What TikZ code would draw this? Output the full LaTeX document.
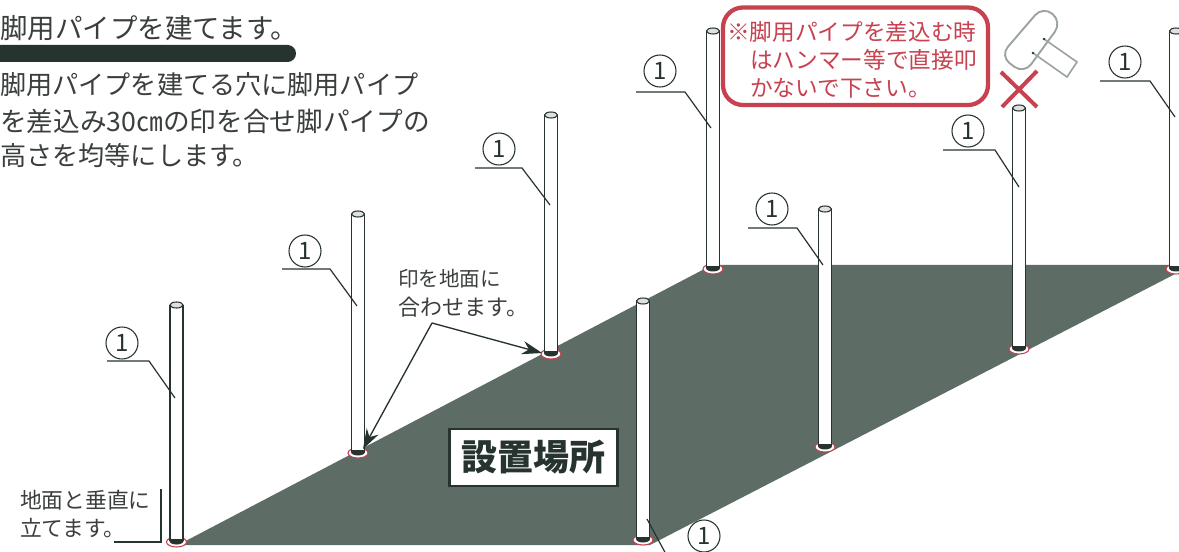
\documentclass[tikz,border=0pt]{standalone}
\usepackage{fontspec}
\setmainfont{Noto Sans CJK JP}
\usetikzlibrary{arrows.meta}
\definecolor{ink}{HTML}{26332E}
\definecolor{txt}{HTML}{3A3F3D}
\definecolor{grnd}{HTML}{5E6C66}
\definecolor{redc}{HTML}{C8414F}
\definecolor{ham}{HTML}{9AA39E}
\tikzset{
 x=0.75pt,y=-0.75pt,
 pipeline/.style={draw=ink,line width=1.3pt,fill=white},
 leader/.style={draw=ink,line width=0.9pt},
 numcirc/.style={circle,draw=ink,line width=0.8pt,minimum size=24pt,inner sep=0pt,font=\fontsize{18}{18}\selectfont,text=ink},
 jp/.style={anchor=west,inner sep=0pt,text=txt},
 callarrow/.style={draw=ink,line width=1pt,-{Stealth[length=15pt,width=10pt]}},
}
\newcommand{\pipeshape}[4]{% name, x, top, bottom
 \fill[white,draw=redc,line width=0.8pt] (#2,#4+1) ellipse [x radius=10,y radius=5];
 \fill[ink] (#2,#4) ellipse [x radius=7,y radius=3.5];
 \path[pipeline,draw=none] (#2-6.5,#3) rectangle (#2+6.5,#4-2);
 \draw[ink,line width=1.3pt] (#2-6.5,#3) -- (#2-6.5,#4);
 \draw[ink,line width=1.3pt] (#2+6.5,#3) -- (#2+6.5,#4);
 \draw[ink,line width=0.8pt,fill=black!12] (#2,#3) ellipse [x radius=6.5,y radius=3];
 \coordinate (#1) at (#2,#4);
}
\begin{document}
\begin{tikzpicture}
\useasboundingbox (0,0) rectangle (1179,552);
\fill[white] (0,0) rectangle (1179,552);
\clip (0,0) rectangle (1179,552);
% ground
\fill[grnd] (178,545) -- (712,265) -- (1179,265) -- (1179,272) -- (650,545) -- cycle;
% pipes
\pipeshape{pa}{176.5}{305}{541}
\pipeshape{pb}{358}{214}{452}
\pipeshape{pc}{551}{115}{353}
\pipeshape{pd}{713}{31}{268}
\pipeshape{pe}{825}{209}{446}
\pipeshape{pf}{1019}{108}{348}
\pipeshape{pg}{1176}{31}{268}
\pipeshape{ph}{643}{301}{539}
% tags
\foreach \n/\cx/\cy/\sx/\kx/\ly/\tx/\ty in {
 a/122/343/107/149/361/175/398,
 b/305/251/282/330/269/357/306,
 c/499/149/475/522/168/550/205,
 d/660/71/636/685/92/711/128,
 e/772/209/748/797/228/823/265,
 f/968/131/943/995/150/1019/187,
 g/1125/62/1100/1150/81/1175/117}{
 \node[numcirc] (n\n) at (\cx,\cy) {1};
 \coordinate (s\n) at (\sx,\ly);
 \coordinate (k\n) at (\kx,\ly);
 \coordinate (t\n) at (\tx,\ty);
 \draw[leader] (s\n) -- (k\n) -- (t\n);
}
\node[numcirc] (nh) at (704,536) {1};
\coordinate (sh) at (647,519);
\coordinate (th) at (667,556);
\draw[leader] (sh) -- (th);
% heading
\node[jp,font=\fontsize{20.6}{20.6}\selectfont] (head) at (0,28) {脚用パイプを建てます。};
\fill[ink,rounded corners=6.3pt] (-30,45) rectangle (296,62);
\node[jp,font=\fontsize{19.6}{19.6}\selectfont] (l1) at (0,85) {脚用パイプを建てる穴に脚用パイプ};
\node[jp,font=\fontsize{20}{20}\selectfont] (l2) at (0,121) {を差込み30㎝の印を合せ脚パイプの};
\node[jp,font=\fontsize{19.6}{19.6}\selectfont] (l3) at (0,156) {高さを均等にします。};
% arrows
\node[jp,font=\fontsize{15.4}{15.4}\selectfont] (ma) at (398,279) {印を地面に};
\node[jp,font=\fontsize{16.5}{16.5}\selectfont] (mb) at (398,307) {合わせます。};
\coordinate (ms) at (432,323);
\draw[callarrow] (ms) -- (542,353);
\draw[callarrow] (ms) -- (363,449);
% vertical note
\node[jp,font=\fontsize{16.3}{16.3}\selectfont] (va) at (20,500) {地面と垂直に};
\node[jp,font=\fontsize{16.3}{16.3}\selectfont] (vb) at (20,528) {立てます。};
\draw[leader] (161,489) -- (161,542) -- (114,542);
% place
\node[draw=ink,line width=1.7pt,fill=white,minimum width=126pt,minimum height=43pt,inner sep=0pt,font=\fontsize{27}{27}\selectfont\bfseries,text=ink] (place) at (533.5,457.5) {設置場所};
% callout
\draw[draw=redc,line width=3.2pt,fill=white,rounded corners=15pt] (723,7.5) rectangle (988,105);
\node[jp,text=redc,font=\fontsize{17}{17}\selectfont] (w1) at (727,32) {※脚用パイプを差込む時};
\node[jp,text=redc,font=\fontsize{17}{17}\selectfont] (w2) at (750,60) {はハンマー等で直接叩};
\node[jp,text=redc,font=\fontsize{17}{17}\selectfont] (w3) at (750,88) {かないで下さい。};
% hammer
\draw[ham,line width=1.2pt] (1044,39) -- (1077,62) -- (1067,77) -- (1033,53);
\draw[ham,line width=1.4pt,rounded corners=9pt] (1043,6) -- (1000,56) -- (1024,74) -- (1062,22) -- cycle;
\fill[ink] (1044,39) circle (1.4) (1033,53) circle (1.4);
% cross
\draw[redc,line width=3pt] (1002,107) -- (1037,71) (1001,72) -- (1037,107);
\end{tikzpicture}
\end{document}
